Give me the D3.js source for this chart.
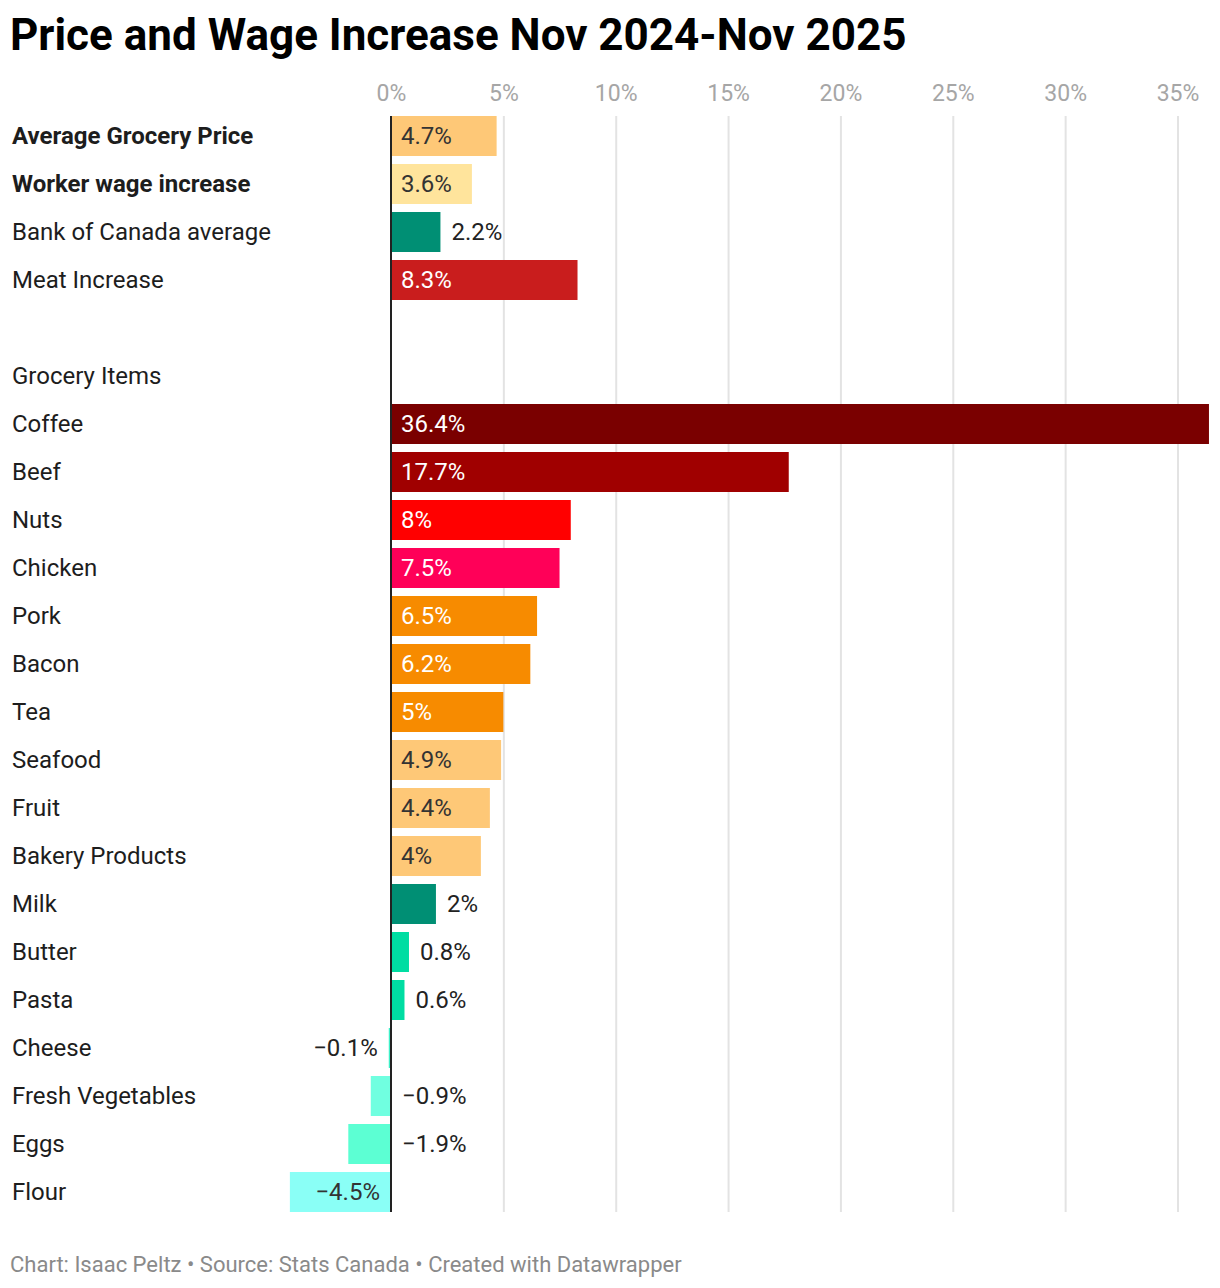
<!DOCTYPE html>
<html>
<head>
<meta charset="utf-8">
<script src="https://cdn.jsdelivr.net/npm/d3@7"></script>
<style>
  body { margin: 0; background: #fff; font-family: Roboto, "Noto Sans", sans-serif; }
  .tick-label text { fill: #a6a6a6; font-size: 23px; font-family: Roboto, sans-serif; }
  .row-label { fill: #1d1d1d; font-size: 24px; }
  .value-label { font-size: 24px; }
</style>
</head>
<body>
<div id="chart"></div>
<script>
// rows of the chart, top to bottom ("" = empty spacer row)
const categories = [
  "Average Grocery Price", "Worker wage increase", "Bank of Canada average", "Meat Increase",
  "", "Grocery Items",
  "Coffee", "Beef", "Nuts", "Chicken", "Pork", "Bacon", "Tea", "Seafood", "Fruit",
  "Bakery Products", "Milk", "Butter", "Pasta", "Cheese", "Fresh Vegetables", "Eggs", "Flour"
];
// percent change, null = no bar
const values = [
  4.7, 3.6, 2.2, 8.3,
  null, null,
  36.4, 17.7, 8, 7.5, 6.5, 6.2, 5, 4.9, 4.4,
  4, 2, 0.8, 0.6, -0.1, -0.9, -1.9, -4.5
];
const barColors = [
  "#fec877", "#ffe49c", "#008f74", "#c91d1d",
  null, null,
  "#7a0000", "#a00000", "#ff0000", "#ff0058", "#f78b00", "#f78b00", "#f78b00", "#fec877", "#fec877",
  "#fec877", "#008f74", "#00dda2", "#00dda2", "#3ff0c8", "#70ffe0", "#5cffd3", "#8afff6"
];
const boldRows = ["Average Grocery Price", "Worker wage increase"];
const tickValues = [0, 5, 10, 15, 20, 25, 30, 35];

const width = 1220, height = 1288;
const rows = categories.map((c, i) => ({ name: c, value: values[i], color: barColors[i], i: i }));

const svg = d3.select("#chart").append("svg")
  .attr("width", width)
  .attr("height", height);

const x = d3.scaleLinear().domain([0, 35]).range([391, 1177.5]);
const y = d3.scaleBand()
  .domain(rows.map(d => d.i))
  .range([112, 112 + 48 * rows.length])
  .paddingInner(1 / 6)
  .paddingOuter(1 / 12);

const plotTop = y(0), plotBottom = y(rows.length - 1) + y.bandwidth();
const fmt = d3.format(".3~g");

// title
svg.append("text")
  .attr("x", 10)
  .attr("y", 50)
  .attr("font-size", 44)
  .attr("font-weight", 700)
  .attr("fill", "#000")
  .text("Price and Wage Increase Nov 2024-Nov 2025");

// gridlines
svg.append("g")
  .attr("transform", `translate(0,${plotTop})`)
  .call(d3.axisTop(x).tickValues(tickValues.slice(1)).tickSize(-(plotBottom - plotTop)).tickFormat(""))
  .call(g => g.select(".domain").remove())
  .call(g => g.selectAll("line").attr("stroke", "#e3e3e3").attr("stroke-width", 2));

// tick labels
svg.append("g")
  .attr("class", "tick-label")
  .attr("transform", "translate(0,104)")
  .call(d3.axisTop(x).tickValues(tickValues).tickSize(0).tickFormat(d => d + "%"))
  .call(g => g.select(".domain").remove());

// row labels
svg.selectAll(".row-label")
  .data(rows.filter(d => d.name !== ""))
  .enter().append("text")
  .attr("class", "row-label")
  .attr("x", 12)
  .attr("y", d => y(d.i) + y.bandwidth() / 2)
  .attr("dy", "0.35em")
  .attr("font-weight", d => boldRows.includes(d.name) ? 700 : 400)
  .text(d => d.name);

const barRows = rows.filter(d => d.value !== null);

// bars
svg.selectAll(".bar")
  .data(barRows)
  .enter().append("rect")
  .attr("class", "bar")
  .attr("x", d => Math.min(x(0), x(d.value)))
  .attr("y", d => y(d.i))
  .attr("width", d => Math.abs(x(d.value) - x(0)))
  .attr("height", y.bandwidth())
  .attr("fill", d => d.color);

// value labels
const pad = 11;
svg.selectAll(".value-label")
  .data(barRows)
  .enter().append("text")
  .attr("class", "value-label")
  .attr("y", d => y(d.i) + y.bandwidth() / 2)
  .attr("dy", "0.35em")
  .text(d => fmt(d.value) + "%")
  .each(function(d) {
    const t = d3.select(this);
    const tw = this.getComputedTextLength();
    const bw = Math.abs(x(d.value) - x(0));
    const inside = bw > tw + 2 * pad;
    if (inside) {
      const dark = d3.lab(d.color).l > 75;
      t.attr("fill", dark ? "#333" : "#fff");
      if (d.value >= 0) t.attr("x", x(0) + pad - 1).attr("text-anchor", "start");
      else t.attr("x", x(0) - pad).attr("text-anchor", "end");
    } else {
      t.attr("fill", "#222");
      if (d.value >= 0) t.attr("x", x(d.value) + pad).attr("text-anchor", "start");
      else if (Math.abs(d.value) < 0.5) t.attr("x", x(d.value) - pad).attr("text-anchor", "end");
      else t.attr("x", x(0) + pad).attr("text-anchor", "start");
    }
  });

// zero line
svg.append("line")
  .attr("x1", x(0)).attr("x2", x(0))
  .attr("y1", plotTop).attr("y2", plotBottom)
  .attr("stroke", "#222")
  .attr("stroke-width", 2);

// footer
svg.append("text")
  .attr("x", 10)
  .attr("y", 1272)
  .attr("font-size", 22)
  .attr("fill", "#8a8a8a")
  .text("Chart: Isaac Peltz • Source: Stats Canada • Created with Datawrapper");
</script>
</body>
</html>
